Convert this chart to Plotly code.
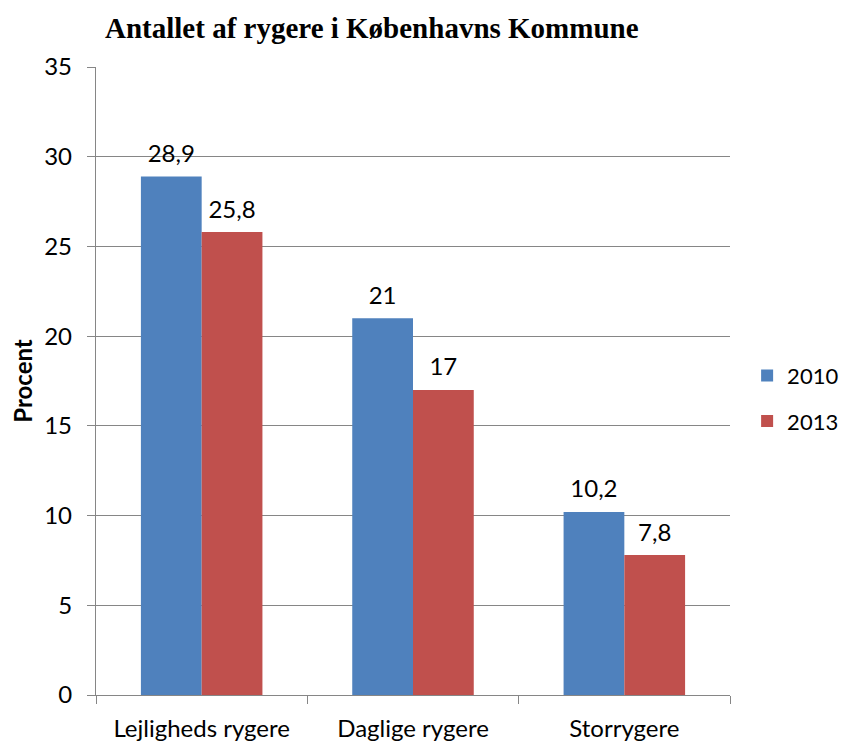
import plotly.graph_objects as go

categories = ["Lejligheds rygere", "Daglige rygere", "Storrygere"]
values_2010 = [28.9, 21, 10.2]
values_2013 = [25.8, 17, 7.8]
series_names = ["2010", "2013"]
colors = ["#4F81BD", "#C0504D"]
y_ticks = [0, 5, 10, 15, 20, 25, 30, 35]

FONT = "Lato, sans-serif"


def fmt(v):
    return ("%g" % v).replace(".", ",")


fig = go.Figure()
for i, (name, vals, col) in enumerate(zip(series_names, [values_2010, values_2013], colors)):
    fig.add_trace(go.Bar(
        x=categories, y=vals, name=name, marker_color=col,
        marker_line_width=0, offsetgroup=str(i),
        legendgroup=name,
    ))
for i, (name, vals) in enumerate(zip(series_names, [values_2010, values_2013])):
    fig.add_trace(go.Scatter(
        x=categories, y=vals, mode="markers+text", offsetgroup=str(i),
        marker=dict(size=12, color="rgba(0,0,0,0)"),
        text=[fmt(v) for v in vals], textposition="top center",
        textfont=dict(family=FONT, size=24, color="black"),
        cliponaxis=False, showlegend=False, hoverinfo="skip",
    ))

fig.update_layout(
    width=849, height=742,
    margin=dict(l=88, r=127, t=59, b=55, autoexpand=False),
    paper_bgcolor="white", plot_bgcolor="white",
    barmode="group", bargap=0.425, bargroupgap=0,
    scattermode="group", scattergap=0.425,
    title=dict(text="<b>Antallet af rygere i Københavns Kommune</b>",
               x=0.435, xanchor="center", xref="paper", y=0.973, yanchor="middle",
               font=dict(family="Liberation Serif, Times New Roman, serif", size=29, color="black")),
    font=dict(family=FONT, size=24, color="black"),
    showlegend=True,
    legend=dict(x=1.027, xanchor="left", y=0.472, yanchor="middle",
                font=dict(size=22, color="black"), tracegroupgap=14,
                traceorder="grouped", itemclick=False, borderwidth=0),
)
fig.update_xaxes(
    automargin=False,
    showline=True, linecolor="#868686", linewidth=1.3,
    ticks="outside", tickson="boundaries", ticklen=8, tickcolor="#868686",
    ticklabelstandoff=12,
    tickfont=dict(family=FONT, size=24, color="black"),
    showgrid=False,
)
fig.update_yaxes(
    automargin=False,
    range=[0, 35], tickvals=y_ticks, showline=True, linecolor="#868686", linewidth=1.3,
    ticks="outside", ticklen=8, tickcolor="#868686", ticklabelstandoff=10,
    showgrid=True, gridcolor="#868686", gridwidth=1.3, zeroline=False,
    tickfont=dict(family=FONT, size=24, color="black"),
    title=dict(text="<b>Procent</b>", standoff=4,
               font=dict(family=FONT, size=24, color="black")),
)
fig.write_html("out.html")
